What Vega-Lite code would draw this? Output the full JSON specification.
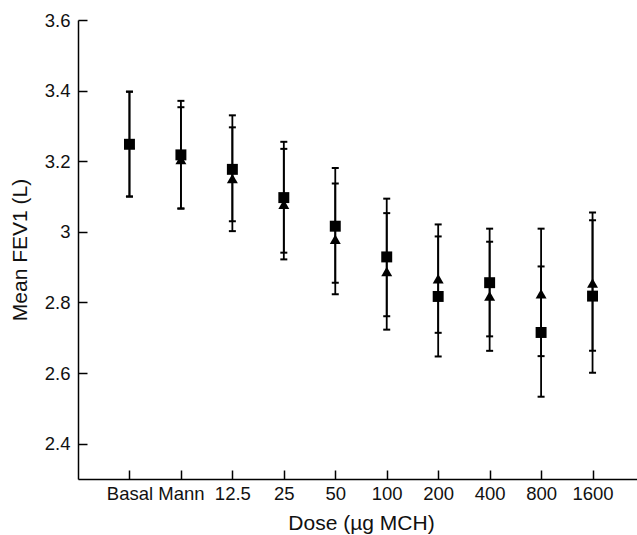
{
  "$schema": "https://vega.github.io/schema/vega-lite/v6.json",
  "width": 559,
  "height": 459,
  "autosize": {"type": "none"},
  "padding": {"left": 78, "top": 20, "right": 0, "bottom": 56},
  "config": {
    "view": {"stroke": null},
    "axis": {
      "grid": false,
      "domainColor": "black",
      "domainWidth": 1.5,
      "tickColor": "black",
      "tickWidth": 1.5,
      "tickSize": -9,
      "labelFont": "Liberation Sans",
      "labelFontSize": 18.5,
      "labelColor": "#111111",
      "titleFont": "Liberation Sans",
      "titleFontSize": 21,
      "titleFontWeight": "normal",
      "titleColor": "#111111"
    }
  },
  "data": {
    "values": [
      {"dose": "Basal", "group": "tri", "mean": 3.248, "lo": 3.100, "hi": 3.397},
      {"dose": "Mann", "group": "tri", "mean": 3.205, "lo": 3.066, "hi": 3.353},
      {"dose": "12.5", "group": "tri", "mean": 3.151, "lo": 3.002, "hi": 3.296},
      {"dose": "25", "group": "tri", "mean": 3.078, "lo": 2.922, "hi": 3.235},
      {"dose": "50", "group": "tri", "mean": 2.979, "lo": 2.823, "hi": 3.137},
      {"dose": "100", "group": "tri", "mean": 2.888, "lo": 2.723, "hi": 3.053},
      {"dose": "200", "group": "tri", "mean": 2.867, "lo": 2.714, "hi": 3.021},
      {"dose": "400", "group": "tri", "mean": 2.818, "lo": 2.663, "hi": 2.972},
      {"dose": "800", "group": "tri", "mean": 2.825, "lo": 2.648, "hi": 3.009},
      {"dose": "1600", "group": "tri", "mean": 2.855, "lo": 2.663, "hi": 3.055},
      {"dose": "Basal", "group": "sq", "mean": 3.248, "lo": 3.100, "hi": 3.397},
      {"dose": "Mann", "group": "sq", "mean": 3.218, "lo": 3.066, "hi": 3.371},
      {"dose": "12.5", "group": "sq", "mean": 3.177, "lo": 3.030, "hi": 3.330},
      {"dose": "25", "group": "sq", "mean": 3.097, "lo": 2.941, "hi": 3.255},
      {"dose": "50", "group": "sq", "mean": 3.016, "lo": 2.856, "hi": 3.181},
      {"dose": "100", "group": "sq", "mean": 2.929, "lo": 2.761, "hi": 3.094},
      {"dose": "200", "group": "sq", "mean": 2.817, "lo": 2.647, "hi": 2.987},
      {"dose": "400", "group": "sq", "mean": 2.856, "lo": 2.704, "hi": 3.009},
      {"dose": "800", "group": "sq", "mean": 2.715, "lo": 2.533, "hi": 2.902},
      {"dose": "1600", "group": "sq", "mean": 2.818, "lo": 2.601, "hi": 3.033}
    ]
  },
  "encoding": {
    "x": {
      "field": "dose",
      "type": "ordinal",
      "sort": ["Basal", "Mann", "12.5", "25", "50", "100", "200", "400", "800", "1600"],
      "scale": {"type": "point", "padding": 1, "range": [0, 566]},
      "axis": {"title": "Dose (µg MCH)", "labelAngle": 0, "labelPadding": 14, "titlePadding": 10}
    }
  },
  "layer": [
    {
      "mark": {"type": "rule", "strokeWidth": 1.8, "color": "black"},
      "encoding": {
        "y": {
          "field": "lo",
          "type": "quantitative",
          "title": "Mean FEV1 (L)",
          "scale": {"domain": [2.3, 3.6], "nice": false, "zero": false},
          "axis": {"values": [2.4, 2.6, 2.8, 3.0, 3.2, 3.4, 3.6], "format": "~g", "labelPadding": 17, "titlePadding": 14}
        },
        "y2": {"field": "hi"}
      }
    },
    {
      "mark": {"type": "tick", "size": 7, "thickness": 2, "color": "black", "opacity": 1},
      "encoding": {"y": {"field": "lo", "type": "quantitative", "title": "Mean FEV1 (L)"}}
    },
    {
      "mark": {"type": "tick", "size": 7, "thickness": 2, "color": "black", "opacity": 1},
      "encoding": {"y": {"field": "hi", "type": "quantitative", "title": "Mean FEV1 (L)"}}
    },
    {
      "mark": {"type": "point", "filled": true, "opacity": 1, "color": "black", "size": 120},
      "encoding": {
        "y": {"field": "mean", "type": "quantitative", "title": "Mean FEV1 (L)"},
        "shape": {
          "field": "group",
          "type": "nominal",
          "scale": {"domain": ["tri", "sq"], "range": ["triangle-up", "square"]},
          "legend": null
        }
      }
    }
  ]
}
